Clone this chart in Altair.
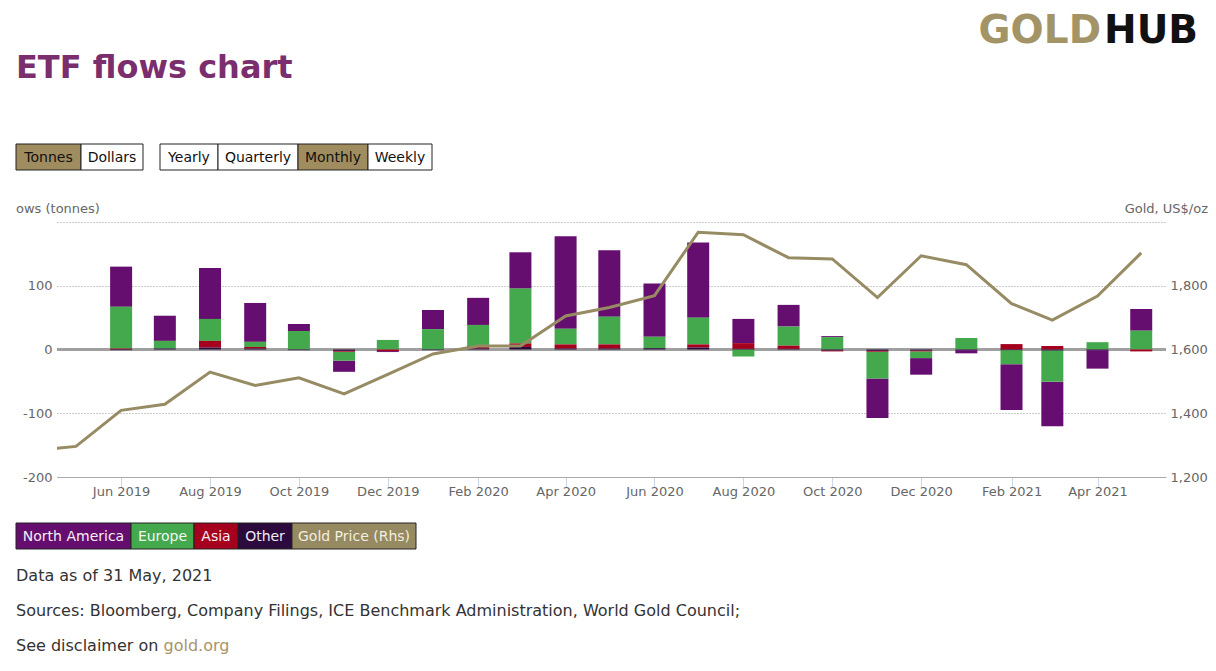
import altair as alt
import pandas as pd

FONT = "DejaVu Sans"

# ---------------- data ----------------
bar_months = ["2019-06", "2019-07", "2019-08", "2019-09", "2019-10", "2019-11",
              "2019-12", "2020-01", "2020-02", "2020-03", "2020-04", "2020-05",
              "2020-06", "2020-07", "2020-08", "2020-09", "2020-10", "2020-11",
              "2020-12", "2021-01", "2021-02", "2021-03", "2021-04", "2021-05"]
north_america = [63, 39.5, 80, 61, 11, -17.5, -1.5, 30, 42.5, 57, 145, 104,
                 83.5, 118, 38, 34, 1.5, -62, -26, -5, -72, -70, -29, 34]
europe = [65.5, 12, 34.5, 8, 29, -14, 15, 32, 33, 86, 24.5, 43.5,
          18, 42, -11, 30, 19.5, -42, -10.5, 18, -22, -49, 11.5, 29.5]
asia = [1.5, 0, 10.5, 2.5, 0, -1.5, -2.5, 0, 4, 5.5, 6.5, 6.5,
        0, 5, 9, 5, -1.5, -1.5, -1.5, 0, 8.5, 5.5, 0, -3]
other = [-1, 1.5, 3, 1.5, -1, -2, 0, -1, 1.5, 4, 1.5, 1.5,
         2, 3, 1, 1, -1.5, -2, -1.5, -1, -1, -1.5, -1, 0]

gold_months = ["2019-04", "2019-05"] + bar_months
gold_price = [1282, 1296, 1409, 1428, 1529, 1487, 1511, 1461, 1522, 1586, 1611, 1611,
              1705, 1732, 1769, 1968, 1960, 1888, 1884, 1763, 1894, 1866, 1744, 1692,
              1768, 1903]

regions = ["North America", "Europe", "Asia", "Other"]
region_colors = ["#660e6f", "#44a84d", "#a6001f", "#2c0a3d"]
stack_order = {"Other": 0, "Asia": 1, "Europe": 2, "North America": 3}
series = {"North America": north_america, "Europe": europe, "Asia": asia, "Other": other}

rows = []
for r in regions:
    for m, v in zip(bar_months, series[r]):
        rows.append({"date": m + "-01T00:00:00", "region": r, "value": v, "ord": stack_order[r]})
flows = pd.DataFrame(rows)
gold = pd.DataFrame({"date": [m + "-01T00:00:00" for m in gold_months], "gold": gold_price})

tick_dates = [alt.DateTime(year=y, month=m, date=1) for (y, m) in
              [(2019, 6), (2019, 8), (2019, 10), (2019, 12), (2020, 2), (2020, 4),
               (2020, 6), (2020, 8), (2020, 10), (2020, 12), (2021, 2), (2021, 4)]]

W, H = 1109, 255

xscale = alt.Scale(domain=[alt.DateTime(year=2019, month=4, date=18),
                           alt.DateTime(year=2021, month=5, date=18)],
                   padding=0)
xaxis = alt.Axis(values=tick_dates, format="%b %Y", title=None, grid=False,
                 labelColor="#666", labelFontSize=13, labelFont=FONT,
                 tickColor="#ccd6eb", tickSize=10, domainColor="#aaa",
                 labelPadding=-2, labelFlush=False, labelOverlap=False)

zero_rule = alt.Chart(flows).mark_rule(color="#a0a0a0", strokeWidth=2).encode(
    y=alt.datum(0))

bars = alt.Chart(flows).mark_bar(size=22).encode(
    x=alt.X("date:T", scale=xscale, axis=xaxis),
    y=alt.Y("value:Q", stack="zero",
            scale=alt.Scale(domain=[-200, 200], nice=False),
            axis=alt.Axis(values=[-200, -100, 0, 100, 200],
                          labelExpr="datum.value == 200 ? '' : '' + datum.value",
                          grid=True, gridDash=[1, 2], gridColor="#999", gridWidth=1,
                          domain=False, ticks=False, title=None,
                          labelColor="#666", labelFontSize=13, labelFont=FONT,
                          labelPadding=5)),
    color=alt.Color("region:N", scale=alt.Scale(domain=regions, range=region_colors),
                    legend=None),
    order=alt.Order("ord:Q", sort="ascending"),
)

left = alt.layer(zero_rule, bars)

line = alt.Chart(gold).mark_line(color="#978b63", strokeWidth=3, clip=True).encode(
    x=alt.X("date:T", scale=xscale, axis=xaxis),
    y=alt.Y("gold:Q", scale=alt.Scale(domain=[1200, 2000], nice=False, zero=False),
            axis=alt.Axis(orient="right", values=[1200, 1400, 1600, 1800, 2000],
                          labelExpr="datum.value == 2000 ? '' : format(datum.value, ',')",
                          grid=False, domain=False, ticks=False, title=None,
                          labelColor="#666", labelFontSize=13, labelFont=FONT,
                          labelPadding=4)),
)

# ---------------- decorations (positions relative to plot area) ----------------
OX, OY = 57, 222  # page position of plot origin


def text(label, px, py, size, color, align="left", weight="normal"):
    d = alt.Data(values=[{"t": label}])
    return alt.Chart(d).mark_text(font=FONT, fontSize=size, color=color, align=align,
                                  baseline="alphabetic", fontWeight=weight).encode(
        x=alt.value(px - OX), y=alt.value(py - OY), text="t:N")


def box(label, x0, x1, y0, y1, fill, color, size=14):
    d = alt.Data(values=[{"t": label}])
    rect = alt.Chart(d).mark_rect(fill=fill, stroke="#222", strokeWidth=1).encode(
        x=alt.value(x0 - OX), x2=alt.value(x1 - OX),
        y=alt.value(y0 - OY), y2=alt.value(y1 - OY))
    txt = alt.Chart(d).mark_text(font=FONT, fontSize=size, color=color, align="center",
                                 baseline="alphabetic").encode(
        x=alt.value((x0 + x1) / 2 - OX), y=alt.value(y1 - 8 - OY), text="t:N")
    return [rect, txt]


decor = []
decor.append(text("ETF flows chart", 16, 78, 32, "#7a2e6e", weight="bold"))
decor.append(text("GOLD", 1101, 43, 39, "#a39467", align="right", weight="bold"))
decor.append(text("HUB", 1104, 43, 39, "#111111", align="left", weight="bold"))

button_labels = ["Tonnes", "Dollars", "Yearly", "Quarterly", "Monthly", "Weekly"]
button_edges = [(16, 81), (81, 143), (160, 218), (218, 298), (298, 368), (368, 432)]
button_active = [True, False, False, False, True, False]
for lab, (a, b), act in zip(button_labels, button_edges, button_active):
    decor += box(lab, a, b, 144, 170, "#a08d5f" if act else "#ffffff", "#111111")

decor.append(text("ows (tonnes)", 16, 213, 13, "#666"))
decor.append(text("Gold, US$/oz", 1208, 213, 13, "#666", align="right"))

legend_labels = regions + ["Gold Price (Rhs)"]
legend_fills = region_colors + ["#968a62"]
legend_text = ["#f4eef6", "#f2f8f2", "#f8eef0", "#f0ecf2", "#f3eedf"]
legend_edges = [(16, 131), (131, 194), (194, 238), (238, 292), (292, 416)]
for lab, fill, tc, (a, b) in zip(legend_labels, legend_fills, legend_text, legend_edges):
    decor += box(lab, a, b, 523, 549, fill, tc)

decor.append(text("Data as of 31 May, 2021", 16, 581, 16, "#333"))
decor.append(text("Sources: Bloomberg, Company Filings, ICE Benchmark Administration, World Gold Council;",
                  16, 616, 16, "#333"))
decor.append(text("See disclaimer on", 16, 651, 16, "#333"))
decor.append(text("gold.org", 163.5, 651, 16, "#a89466"))

chart = alt.layer(left, line, *decor).resolve_scale(y="independent").properties(
    width=W, height=H,
    autosize=alt.AutoSizeParams(type="none"),
    padding={"left": 49, "top": 214, "right": 42, "bottom": 194},
    background="white",
).configure(font=FONT).configure_view(stroke=None)

chart.save("out.html", embed_options={"renderer": "svg", "actions": False})
